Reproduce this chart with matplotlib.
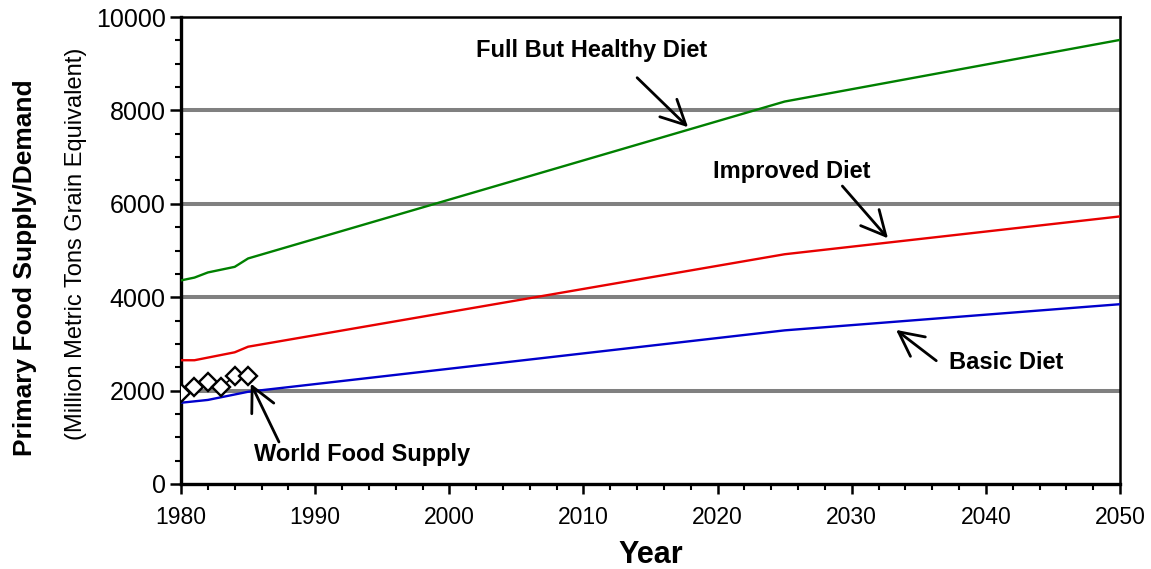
import matplotlib
matplotlib.use("Agg")
import matplotlib.pyplot as plt
from matplotlib.ticker import MultipleLocator

# ── Data ──────────────────────────────────────────────────────────────────────

full_years = [1980, 1981, 1982, 1984, 1985, 2025, 2050]
full_diet = [4360, 4420, 4530, 4650, 4830, 8190, 9510]

improved_years = [1980, 1981, 1984, 1985, 2025, 2050]
improved_diet = [2650, 2650, 2820, 2940, 4920, 5730]

basic_years = [1980, 1982, 1985, 2025, 2050]
basic_diet = [1740, 1800, 1975, 3290, 3850]

supply_years = [1980, 1981, 1982, 1983, 1984, 1985]
supply = [1940, 2085, 2190, 2085, 2310, 2310]

x_ticks = [1980, 1990, 2000, 2010, 2020, 2030, 2040, 2050]
y_ticks = [0, 2000, 4000, 6000, 8000, 10000]

# ── Figure ────────────────────────────────────────────────────────────────────

plt.rcParams["font.family"] = ["Liberation Sans", "DejaVu Sans"]

fig = plt.figure(figsize=(11.51, 5.69), dpi=100)
ax = fig.add_axes([0.1573, 0.1494, 0.8158, 0.8207])

for v in y_ticks[1:-1]:
    ax.axhline(v, color="#808080", linewidth=2.9, zorder=1)

ax.plot(full_years, full_diet, color="#008000", linewidth=1.7, zorder=3)
ax.plot(improved_years, improved_diet, color="#e80000", linewidth=1.7, zorder=3)
ax.plot(basic_years, basic_diet, color="#0000cc", linewidth=1.7, zorder=3)
ax.plot(supply_years, supply, color="black", linewidth=1.2, marker="D",
        markersize=9, markerfacecolor="white", markeredgecolor="black",
        markeredgewidth=1.7, zorder=4, clip_on=True)

ax.set_xlim(1980, 2050)
ax.set_ylim(0, 10000)
ax.set_xticks(x_ticks)
ax.set_yticks(y_ticks)
ax.xaxis.set_minor_locator(MultipleLocator(2))
ax.yaxis.set_minor_locator(MultipleLocator(500))
ax.tick_params(axis="both", which="major", direction="out", width=1.8,
               color="black")
ax.tick_params(axis="y", which="major", length=8, labelsize=18, pad=3)
ax.tick_params(axis="x", which="major", length=7, labelsize=16.5, pad=9)
ax.tick_params(axis="both", which="minor", direction="out", length=4,
               width=1.5)

for side in ["left", "bottom"]:
    ax.spines[side].set_linewidth(2.4)
for side in ["top", "right"]:
    ax.spines[side].set_linewidth(1.8)

ax.set_xlabel("Year", fontsize=22, fontweight="bold", labelpad=8)
fig.text(0.022, 0.530, "Primary Food Supply/Demand", rotation=90,
         fontsize=19, fontweight="bold", ha="center", va="center")
fig.text(0.066, 0.571, "(Million Metric Tons Grain Equivalent)", rotation=90,
         fontsize=17, ha="center", va="center")

# ── Labels with arrows ────────────────────────────────────────────────────────

arrow = dict(arrowstyle="->", color="black", linewidth=2.0,
             mutation_scale=44, shrinkA=0, shrinkB=0)
label_kw = dict(fontsize=17, fontweight="bold", ha="center", va="center")

ax.annotate("", xy=(2017.8, 7640), xytext=(2014.0, 8700), arrowprops=arrow)
ax.text(2010.6, 9290, "Full But Healthy Diet", **label_kw)

ax.annotate("", xy=(2032.7, 5260), xytext=(2029.3, 6380), arrowprops=arrow)
ax.text(2025.5, 6700, "Improved Diet", **label_kw)

ax.annotate("", xy=(2033.3, 3300), xytext=(2036.3, 2640), arrowprops=arrow)
ax.text(2041.5, 2612, "Basic Diet", **label_kw)

ax.annotate("", xy=(1985.2, 2150), xytext=(1987.3, 900), arrowprops=arrow)
ax.text(1993.5, 642, "World Food Supply", **label_kw)

fig.savefig("out.png", dpi=100)
